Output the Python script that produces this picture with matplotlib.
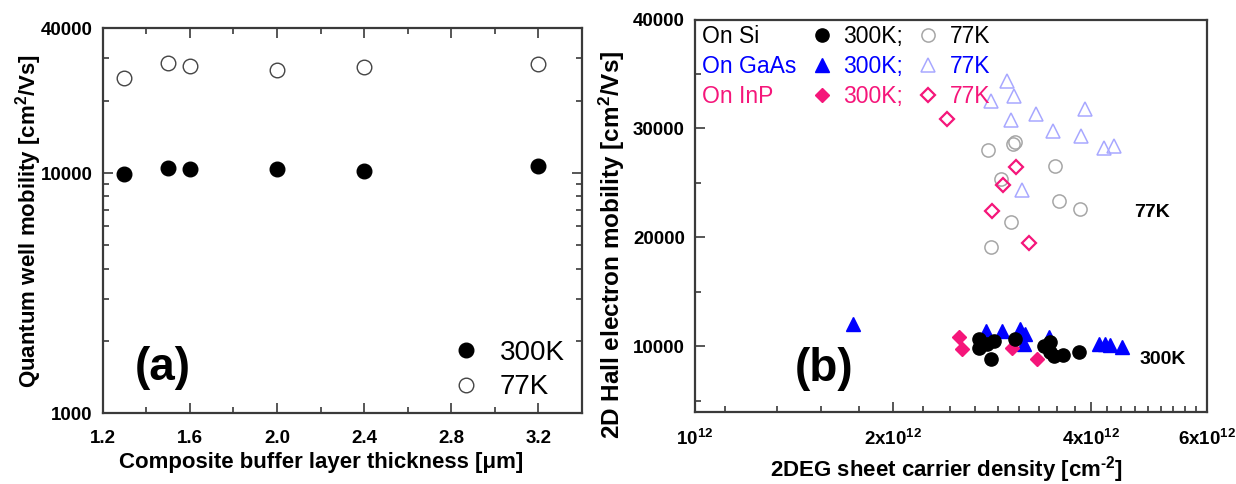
import numpy as np
import matplotlib
matplotlib.use("Agg")
import matplotlib.pyplot as plt
from matplotlib.ticker import FixedLocator, NullFormatter, LogLocator
from matplotlib.lines import Line2D

plt.rcParams['font.family'] = ['Liberation Sans', 'DejaVu Sans']
plt.rcParams['mathtext.fontset'] = 'custom'
plt.rcParams['mathtext.rm'] = 'Liberation Sans:bold'
plt.rcParams['mathtext.bf'] = 'Liberation Sans:bold'
plt.rcParams['mathtext.default'] = 'bf'

# ---------------- data: panel (a) ----------------
thickness = [1.3, 1.5, 1.6, 2.0, 2.4, 3.2]
qw_mob_300K = [9900, 10500, 10400, 10400, 10200, 10700]
qw_mob_77K = [24900, 28600, 27900, 26800, 27500, 28400]
a_xticks = [1.2, 1.6, 2.0, 2.4, 2.8, 3.2]
a_xticklabels = ["1.2", "1.6", "2.0", "2.4", "2.8", "3.2"]
a_yticks = [1000, 10000, 40000]
a_yticklabels = ["1000", "10000", "40000"]

# ---------------- data: panel (b) (density in 1e12 cm^-2) ----------------
si_77_n = [2.79, 3.04, 3.07, 2.92, 3.52, 3.57, 3.85, 3.02, 2.82]
si_77_mu = [28000, 28550, 28750, 25400, 26550, 23300, 22650, 21400, 19150]
gaas_77_n = [2.98, 2.82, 3.05, 3.02, 3.30, 3.92, 3.50, 3.86, 4.19, 4.34, 3.14]
gaas_77_mu = [34400, 32560, 32970, 30770, 31370, 31780, 29800, 29300, 28200, 28380, 24340]
inp_77_n = [2.42, 3.08, 2.94, 2.83, 3.22]
inp_77_mu = [30890, 26480, 24830, 22410, 19470]

si_300_n = [2.70, 2.70, 2.78, 2.85, 2.82, 3.07, 3.39, 3.46, 3.47, 3.51, 3.62, 3.84]
si_300_mu = [10660, 9880, 10260, 10520, 8820, 10720, 10080, 10380, 9460, 9100, 9190, 9460]
gaas_300_n = [1.74, 2.77, 2.93, 3.12, 3.18, 3.16, 3.45, 4.11, 4.20, 4.27, 4.45]
gaas_300_mu = [12035, 11390, 11390, 11640, 11180, 10260, 10900, 10260, 10200, 10110, 9970]
inp_300_n = [2.52, 2.55, 3.03, 3.31]
inp_300_mu = [10870, 9800, 9830, 8885]

b_xticks = [1e12, 2e12, 4e12, 6e12]
b_xticklabels = ["10$^{12}$", "2x10$^{12}$", "4x10$^{12}$", "6x10$^{12}$"]
b_yticks = [10000, 20000, 30000, 40000]
b_yticklabels = ["10000", "20000", "30000", "40000"]

PINK = '#f5167a'
BLUE = '#0000ff'
LBLUE = '#a8a8ff'
GRAY = '#a6a6a6'
SPINE = '#3a3a3a'

fig = plt.figure(figsize=(12.36, 4.84), dpi=100)
axa = fig.add_axes([0.0830, 0.1457, 0.3879, 0.7958])
axb = fig.add_axes([0.5619, 0.1492, 0.4147, 0.8105])

for ax in (axa, axb):
    for s in ax.spines.values():
        s.set_color(SPINE)
        s.set_linewidth(1.6)

# ---------------- panel (a) ----------------
h300, = axa.plot(thickness, qw_mob_300K, 'o', color='black', markersize=10.5, linestyle='none')
h77, = axa.plot(thickness, qw_mob_77K, 'o', mfc='white', mec='#444444', mew=1.0,
                markersize=10.5, linestyle='none')
axa.set_yscale('log')
axa.set_xlim(1.2, 3.4)
axa.set_ylim(1000, 40000)
axa.set_xticks(a_xticks)
axa.set_xticklabels(a_xticklabels)
axa.xaxis.set_minor_locator(FixedLocator(np.arange(1.4, 3.35, 0.4)))
axa.set_yticks(a_yticks)
axa.set_yticklabels(a_yticklabels)
axa.yaxis.set_minor_locator(LogLocator(base=10, subs=np.arange(2, 10)))
axa.yaxis.set_minor_formatter(NullFormatter())
axa.tick_params(which='both', direction='in', top=True, right=True, color=SPINE, width=1.2)
axa.tick_params(which='major', length=7, labelsize=13.5, pad=7)
axa.tick_params(which='minor', length=4)
axa.tick_params(axis='x', which='major', pad=12)
for lab in axa.get_xticklabels() + axa.get_yticklabels():
    lab.set_fontweight('bold')
axa.set_xlabel("Composite buffer layer thickness [\u03bcm]", fontsize=16, fontweight='bold')
axa.set_ylabel("Quantum well mobility [cm$^2$/Vs]", fontsize=16, fontweight='bold')
axa.xaxis.set_label_coords(0.4556, -0.100)
axa.yaxis.set_label_coords(-0.122, 0.5)
axa.text(0.125, 0.117, "(a)", transform=axa.transAxes, fontsize=33, fontweight='bold',
         ha='center', va='center')
lega = axa.legend([h300, h77], ["300K", "77K"], loc='upper left', bbox_to_anchor=(0.7295, 0.191),
                  frameon=False, fontsize=20, handlelength=1.0, handletextpad=0.7,
                  labelspacing=0.3, borderpad=0, borderaxespad=0)

# ---------------- panel (b) ----------------
n = lambda v: np.asarray(v) * 1e12
mk = 9.5
g77, = axb.plot(n(gaas_77_n), gaas_77_mu, '^', mfc='none', mec=LBLUE, mew=1.1, markersize=mk, linestyle='none')
s77, = axb.plot(n(si_77_n), si_77_mu, 'o', mfc='none', mec=GRAY, mew=1.1, markersize=mk, linestyle='none')
i77, = axb.plot(n(inp_77_n), inp_77_mu, 'D', mfc='none', mec=PINK, mew=1.6, markersize=mk * 0.8, linestyle='none')
g300, = axb.plot(n(gaas_300_n), gaas_300_mu, '^', color=BLUE, markersize=mk, linestyle='none')
i300, = axb.plot(n(inp_300_n), inp_300_mu, 'D', color=PINK, markersize=mk * 0.8, linestyle='none')
s300, = axb.plot(n(si_300_n), si_300_mu, 'o', color='black', markersize=mk, linestyle='none')

axb.set_xscale('log')
axb.set_xlim(1e12, 6e12)
axb.set_ylim(4000, 40000)
axb.set_xticks(b_xticks)
axb.set_xticklabels(b_xticklabels)
minors = np.arange(0, 6e12, 2e12 / 9)
minors = [m for m in minors if 1.05e12 < m < 5.99e12 and abs(m - 2e12) > 1e10 and abs(m - 4e12) > 1e10]
axb.xaxis.set_minor_locator(FixedLocator(minors))
axb.xaxis.set_minor_formatter(NullFormatter())
axb.set_yticks(b_yticks)
axb.set_yticklabels(b_yticklabels)
axb.yaxis.set_minor_locator(FixedLocator([5000, 15000, 25000, 35000]))
axb.tick_params(which='both', direction='in', top=False, right=False, color=SPINE, width=1.2)
axb.tick_params(which='major', length=7, labelsize=13.5, pad=7)
axb.tick_params(which='minor', length=4)
axb.tick_params(axis='x', which='major', pad=12)
for lab in axb.get_xticklabels() + axb.get_yticklabels():
    lab.set_fontweight('bold')
axb.set_xlabel(r"2DEG sheet carrier density [cm$^{\text{-}2}$]", fontsize=16, fontweight='bold')
axb.set_ylabel("2D Hall electron mobility [cm$^2$/Vs]", fontsize=17.5, fontweight='bold')
axb.xaxis.set_label_coords(0.4923, -0.1076)
axb.yaxis.set_label_coords(-0.132, 0.425)
axb.text(0.252, 0.110, "(b)", transform=axb.transAxes, fontsize=33, fontweight='bold',
         ha='center', va='center')
axb.text(0.8576, 0.5068, "77K", transform=axb.transAxes, fontsize=14, fontweight='bold',
         ha='left', va='center')
axb.text(0.8673, 0.1338, "300K", transform=axb.transAxes, fontsize=14, fontweight='bold',
         ha='left', va='center')

blank = Line2D([], [], linestyle='none', marker='none')
handles = [blank, blank, blank, s300, g300, i300, s77, g77, i77]
labels = ["On Si", "On GaAs", "On InP", "300K;", "300K;", "300K;", "77K", "77K", "77K"]
legb = axb.legend(handles, labels, ncol=3, loc='upper left', bbox_to_anchor=(-0.0501, 0.985),
                  frameon=False, fontsize=16.5, handlelength=1.0, handletextpad=0.45,
                  columnspacing=0.6, labelspacing=0.3, borderpad=0, borderaxespad=0)
cols = ['black', BLUE, PINK] * 3
for t, c in zip(legb.get_texts(), cols):
    t.set_color(c)

fig.savefig("out.png", dpi=100)
